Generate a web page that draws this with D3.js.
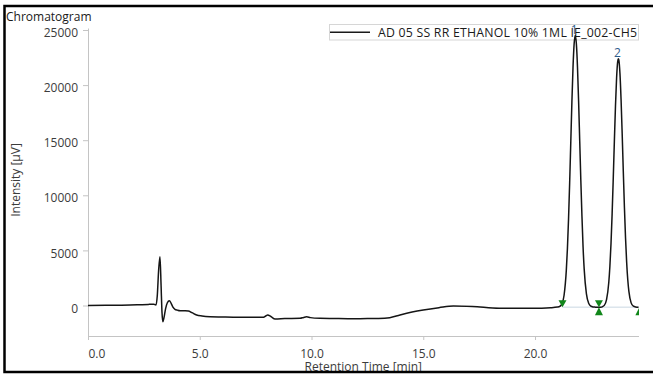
<!DOCTYPE html>
<html>
<head>
<meta charset="utf-8">
<script src="https://cdn.jsdelivr.net/npm/d3@7"></script>
<style>
	body { margin: 0; background: #fff; }
	text { font-family: "Open Sans", "Noto Sans", sans-serif; }
</style>
</head>
<body>
<svg id="svgCanvas" width="653" height="374"></svg>
<script>

// retention time [min] and signal [µV]
var traceTime = [0.00, 0.80, 1.50, 2.20, 2.70, 2.95, 3.04, 3.10, 3.16, 3.22, 3.27, 3.31, 3.35, 3.40, 3.47,
	3.55, 3.64, 3.72, 3.80, 3.89, 4.00, 4.12, 4.30, 4.49, 4.65, 4.86, 5.10, 5.46, 6.00, 6.50, 7.20, 7.83,
	7.95, 8.04, 8.18, 8.37, 8.80, 9.49, 9.65, 9.78, 9.95, 10.38, 11.00, 11.72, 12.50, 13.00, 13.50, 13.96,
	14.50, 15.00, 15.70, 16.35, 17.20, 18.40, 19.20, 19.90, 20.70, 21.00, 21.10, 21.20, 21.30, 21.40, 21.45,
	21.50, 21.55, 21.60, 21.65, 21.70, 21.75, 21.80, 21.85, 21.90, 21.95, 22.00, 22.05, 22.10, 22.15, 22.20,
	22.30, 22.40, 22.50, 22.60, 22.70, 22.84, 22.95, 23.00, 23.10, 23.20, 23.30, 23.35, 23.40, 23.45, 23.50,
	23.55, 23.60, 23.65, 23.70, 23.73, 23.75, 23.80, 23.85, 23.90, 23.95, 24.00, 24.05, 24.10, 24.15, 24.20,
	24.30, 24.40, 24.50, 24.63];
var traceSignal = [0, 20, 30, 60, 100, 110, 40, 900, 3200, 4430, 1800, -600, -1470, -1100, -300,
	250, 435, 200, -150, -345, -420, -470, -480, -500, -650, -860, -950, -1015, -1040, -1060, -1060, -1070,
	-950, -860, -1000, -1225, -1190, -1160, -1080, -1030, -1100, -1160, -1180, -1200, -1190, -1180, -1110, -860,
	-600, -410, -200, -45, -90, -250, -240, -250, -200, -143, -96, 124, 932, 3185, 5174,
	7854, 11140, 14800, 18461, 21604, 23736, 24500, 23750, 21650, 18550, 14950, 11350, 8100, 5300, 3300,
	1050, 200, -60, -130, -150, -160, -150, -121, 8, 524, 2085, 3559, 5630, 8313, 11493,
	14891, 18106, 20664, 22148, 22400, 22287, 21061, 18686, 15567, 12162, 8915, 6119, 3925, 2331, 1275,
	238, -67, -130, -150];

var xTicks = [0, 5, 10, 15, 20];
var yTicks = [0, 5000, 10000, 15000, 20000, 25000];

var peakNames = ["1", "2"];
var peakTime = [21.80, 23.73];
var peakSignal = [24500, 22400];

// integration marks: time, signal, pointing down or up
var markTime = [21.23, 22.86, 22.86, 24.67];
var markSignal = [-150, -150, -150, -150];
var markDown = [true, true, false, false];

var legendLabel = "AD 05 SS RR ETHANOL 10% 1ML IE_002-CH5";

var svg = d3.select("#svgCanvas");
drawChromatogram(svg);

function drawChromatogram(svg){
	var left = 88, right = 638.5, top = 28, bottom = 336;

	var x = d3.scaleLinear().domain([0, 24.63]).range([left, right]);
	var y = d3.scaleLinear().domain([-2768, 25181]).range([bottom, top]);

	svg.append("rect")
		.attr("width", 653).attr("height", 374)
		.attr("fill", "#fff");

	svg.append("defs").append("clipPath")
		.attr("id", "plotClip")
		.append("rect")
			.attr("x", left).attr("y", 0)
			.attr("width", right - left + 0.5).attr("height", bottom);

	// axes
	var yAxis = svg.append("g")
		.attr("transform", "translate(" + left + ",0)")
		.call(d3.axisLeft(y).tickValues(yTicks).tickFormat(d3.format("d"))
			.tickSize(5).tickSizeOuter(0).tickPadding(5));
	yAxis.selectAll("text").attr("dy", "0.55em");

	var xAxis = svg.append("g")
		.attr("transform", "translate(0," + bottom + ")")
		.call(d3.axisBottom(x).tickValues(xTicks).tickFormat(d3.format(".1f"))
			.tickSize(4).tickSizeOuter(0).tickPadding(9));
	xAxis.selectAll("text").filter(function(d){ return d == 0; })
		.attr("text-anchor", "start");

	[xAxis, yAxis].forEach(function(ax){
		ax.select(".domain").attr("stroke", "#c4c4c4");
		ax.selectAll(".tick line").attr("stroke", "#c4c4c4");
		ax.selectAll("text")
			.attr("fill", "#3c3c3c")
			.style("font-size", "12px")
			.style("font-family", "'Open Sans', 'Noto Sans', sans-serif");
	});

	// legend (trace runs over it)
	var legend = svg.append("g");
	legend.append("rect")
		.attr("x", 329.5).attr("y", 24.5)
		.attr("width", 309).attr("height", 15.5)
		.attr("fill", "#fff")
		.attr("stroke", "#d6d6d6");
	legend.append("line")
		.attr("x1", 330).attr("x2", 370)
		.attr("y1", 32.3).attr("y2", 32.3)
		.attr("stroke", "#1a1a1a")
		.attr("stroke-width", 1.6);
	legend.append("text")
		.attr("x", 378).attr("y", 36.5)
		.attr("fill", "#1a1a1a")
		.attr("textLength", 259)
		.attr("lengthAdjust", "spacing")
		.style("font-size", "12.3px")
		.text(legendLabel);

	var plot = svg.append("g").attr("clip-path", "url(#plotClip)");

	// integration baseline
	plot.append("line")
		.attr("x1", x(markTime[0])).attr("x2", x(markTime[3]))
		.attr("y1", y(markSignal[0])).attr("y2", y(markSignal[3]))
		.attr("stroke", "#c9d7e2")
		.attr("stroke-width", 1);

	var points = traceTime.map(function(t, i){ return [t, traceSignal[i]]; });
	var line = d3.line()
		.x(function(d){ return x(d[0]); })
		.y(function(d){ return y(d[1]); })
		.curve(d3.curveMonotoneX);

	plot.append("path")
		.datum(points)
		.attr("fill", "none")
		.attr("stroke", "#151515")
		.attr("stroke-width", 1.5)
		.attr("stroke-linejoin", "round")
		.attr("d", line);

	// green triangles
	plot.selectAll(".mark")
		.data(markTime)
		.enter().append("path")
			.attr("class", "mark")
			.attr("fill", "#11861a")
			.attr("d", function(t, i){
				var px = x(t), py = y(markSignal[i]);
				if(markDown[i])
					return "M" + (px - 4) + "," + (py - 7) + "L" + (px + 4) + "," + (py - 7) + "L" + px + "," + py + "Z";
				return "M" + (px - 4) + "," + (py + 8) + "L" + (px + 4) + "," + (py + 8) + "L" + px + "," + py + "Z";
			});

	svg.selectAll(".peakName")
		.data(peakNames)
		.enter().append("text")
			.attr("class", "peakName")
			.attr("x", function(d, i){ return x(peakTime[i]) - 1; })
			.attr("y", function(d, i){ return y(peakSignal[i]) - 2; })
			.attr("text-anchor", "middle")
			.attr("fill", "#2f5d8c")
			.style("font-size", "12px")
			.text(function(d){ return d; });

	// titles
	svg.append("text")
		.attr("x", 6).attr("y", 20.5)
		.attr("fill", "#1a1a1a")
		.style("font-size", "12px")
		.text("Chromatogram");

	svg.append("text")
		.attr("x", (left + right) / 2).attr("y", 370.5)
		.attr("text-anchor", "middle")
		.attr("fill", "#3c3c3c")
		.style("font-size", "12px")
		.text("Retention Time [min]");

	svg.append("text")
		.attr("transform", "translate(19.5," + 180 + ") rotate(-90)")
		.attr("text-anchor", "middle")
		.attr("fill", "#3c3c3c")
		.style("font-size", "12px")
		.text("Intensity [µV]");

	// frame
	svg.append("rect")
		.attr("x", 4.5).attr("y", 6)
		.attr("width", 700).attr("height", 366)
		.attr("fill", "none")
		.attr("stroke", "#000")
		.attr("stroke-width", 2.5);
}

</script>
</body>
</html>
